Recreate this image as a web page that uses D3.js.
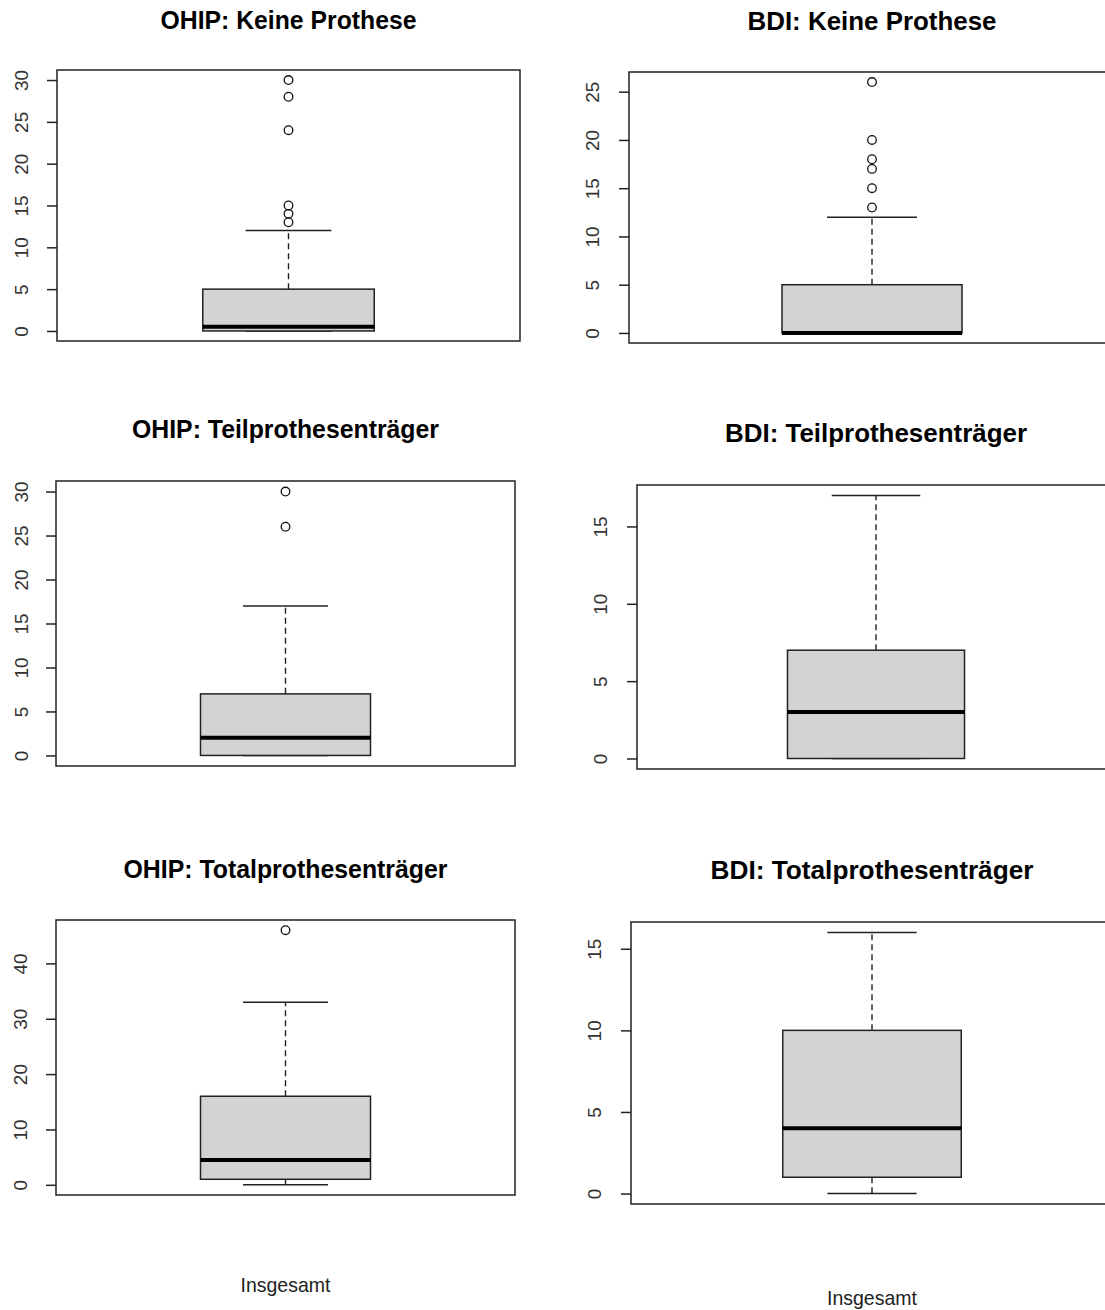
<!DOCTYPE html>
<html lang="de">
<head>
    <meta charset="UTF-8">
    <title>OHIP / BDI Boxplots</title>
    <script src="https://d3js.org/d3.v7.min.js"></script>
    <style>
        body, html {
            margin: 0;
            padding: 0;
            background: #fff;
            overflow: hidden;
        }
        svg {
            display: block;
        }
        .title {
            font-family: "Liberation Sans", Arial, sans-serif;
            font-weight: bold;
            font-size: 25px;
            fill: #000;
        }
        .tick text {
            font-family: "Liberation Sans", Arial, sans-serif;
            font-size: 19px;
            fill: #333;
        }
        .xlab {
            font-family: "Liberation Sans Narrow", "Liberation Sans", Arial, sans-serif;
            font-size: 21px;
            fill: #222;
        }
    </style>
</head>
<body>
    <svg width="1105" height="1310"></svg>
    <script>
        // data, one entry per panel (row by row, OHIP left / BDI right)
        const panelTitles = [
            "OHIP: Keine Prothese", "BDI: Keine Prothese",
            "OHIP: Teilprothesenträger", "BDI: Teilprothesenträger",
            "OHIP: Totalprothesenträger", "BDI: Totalprothesenträger"
        ];
        const lowerWhisker = [0, 0, 0, 0, 0, 0];
        const q1 = [0, 0, 0, 0, 1, 1];
        const medians = [0.5, 0, 2, 3, 4.5, 4];
        const q3 = [5, 5, 7, 7, 16, 10];
        const upperWhisker = [12, 12, 17, 17, 33, 16];
        const outliers = [
            [13, 14, 15, 24, 28, 30],
            [13, 15, 17, 18, 20, 26],
            [26, 30],
            [],
            [46],
            []
        ];
        const yTicks = [
            [0, 5, 10, 15, 20, 25, 30],
            [0, 5, 10, 15, 20, 25],
            [0, 5, 10, 15, 20, 25, 30],
            [0, 5, 10, 15],
            [0, 10, 20, 30, 40],
            [0, 5, 10, 15]
        ];
        const groupLabel = "Insgesamt";

        // layout of each panel (frame box, title, label offsets)
        const layout = [
            { x0: 57, x1: 520, y0: 70, y1: 341, ty: 29, tw: 256, lab: 29 },
            { x0: 629, x1: 1115, y0: 72, y1: 343, ty: 30, tw: 249, lab: 30 },
            { x0: 56, x1: 515, y0: 481, y1: 766, ty: 438, tw: 307, lab: 28 },
            { x0: 637, x1: 1115, y0: 485, y1: 769, ty: 442, tw: 302, lab: 30 },
            { x0: 56, x1: 515, y0: 920, y1: 1195, ty: 878, tw: 324, lab: 29 },
            { x0: 631, x1: 1113, y0: 922, y1: 1204, ty: 879, tw: 323, lab: 30 }
        ];
        const xlabY = [1292, 1305];

        const svg = d3.select("svg");
        const ink = "#222";

        panelTitles.forEach((title, i) => {
            const L = layout[i];
            const g = svg.append("g");

            // R style: 4% padding on both axes
            const vals = [lowerWhisker[i], upperWhisker[i], ...outliers[i]];
            const lo = d3.min(vals), hi = d3.max(vals);
            const pad = (hi - lo) * 0.04;
            const y = d3.scaleLinear().domain([lo - pad, hi + pad]).range([L.y1, L.y0]);
            const x = d3.scaleLinear().domain([0.46, 1.54]).range([L.x0, L.x1]);

            // whiskers
            g.append("line")
                .attr("x1", x(1)).attr("x2", x(1))
                .attr("y1", y(q3[i])).attr("y2", y(upperWhisker[i]))
                .attr("stroke", ink).attr("stroke-width", 1.4)
                .attr("stroke-dasharray", "6,4");
            g.append("line")
                .attr("x1", x(1)).attr("x2", x(1))
                .attr("y1", y(q1[i])).attr("y2", y(lowerWhisker[i]))
                .attr("stroke", ink).attr("stroke-width", 1.4)
                .attr("stroke-dasharray", "6,4");
            [upperWhisker[i], lowerWhisker[i]].forEach(v => {
                g.append("line")
                    .attr("x1", x(0.9)).attr("x2", x(1.1))
                    .attr("y1", y(v)).attr("y2", y(v))
                    .attr("stroke", ink).attr("stroke-width", 1.5);
            });

            // box
            g.append("rect")
                .attr("x", x(0.8))
                .attr("y", y(q3[i]))
                .attr("width", x(1.2) - x(0.8))
                .attr("height", y(q1[i]) - y(q3[i]))
                .attr("fill", "#d3d3d3")
                .attr("stroke", ink).attr("stroke-width", 1.5);

            // median
            g.append("line")
                .attr("x1", x(0.8)).attr("x2", x(1.2))
                .attr("y1", y(medians[i])).attr("y2", y(medians[i]))
                .attr("stroke", "#000").attr("stroke-width", 4);

            // outliers
            g.selectAll("circle.out")
                .data(outliers[i])
                .enter().append("circle")
                .attr("class", "out")
                .attr("cx", x(1))
                .attr("cy", d => y(d))
                .attr("r", 4.3)
                .attr("fill", "none")
                .attr("stroke", "#111")
                .attr("stroke-width", 1.3);

            // frame
            g.append("rect")
                .attr("x", L.x0).attr("y", L.y0)
                .attr("width", L.x1 - L.x0).attr("height", L.y1 - L.y0)
                .attr("fill", "none")
                .attr("stroke", ink).attr("stroke-width", 1.5);

            // y axis with rotated labels
            const ax = g.append("g")
                .attr("transform", `translate(${L.x0},0)`)
                .call(d3.axisLeft(y).tickValues(yTicks[i]).tickSize(10).tickFormat(d3.format("d")));
            ax.select(".domain").remove();
            ax.selectAll(".tick line").attr("stroke", ink).attr("stroke-width", 1.5);
            ax.selectAll(".tick text")
                .attr("x", 0)
                .attr("y", -L.lab)
                .attr("dy", 0)
                .attr("transform", "rotate(-90)")
                .attr("text-anchor", "middle");

            // title
            g.append("text")
                .attr("class", "title")
                .attr("x", x(1))
                .attr("y", L.ty)
                .attr("text-anchor", "middle")
                .attr("textLength", L.tw)
                .attr("lengthAdjust", "spacingAndGlyphs")
                .text(title);

            // group label under the bottom row
            if (i >= 4) {
                g.append("text")
                    .attr("class", "xlab")
                    .attr("x", x(1))
                    .attr("y", xlabY[i - 4])
                    .attr("text-anchor", "middle")
                    .attr("textLength", 90)
                    .attr("lengthAdjust", "spacingAndGlyphs")
                    .text(groupLabel);
            }
        });
    </script>
</body>
</html>
